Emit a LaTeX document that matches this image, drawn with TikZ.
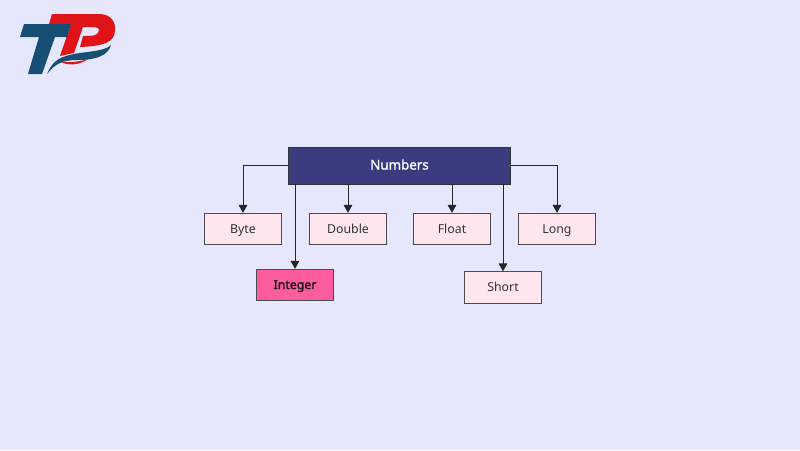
\documentclass[tikz,border=0pt]{standalone}
\usepackage{fontspec}
\setmainfont{Noto Sans}
\usetikzlibrary{arrows.meta}

\definecolor{bgColor}{HTML}{E6E6FC}
\definecolor{navyColor}{HTML}{3B3B80}
\definecolor{paleColor}{HTML}{FFE6EE}
\definecolor{pinkColor}{HTML}{FF5C9D}
\definecolor{logoBlue}{HTML}{174E73}
\definecolor{logoRed}{HTML}{DF1318}

\begin{document}
\begin{tikzpicture}[x = 0.75pt, y = -0.75pt]
	\tikzstyle{rootStyle}=[shape = rectangle, minimum width = 166.5pt, minimum height = 27.75pt, inner sep = 0pt, line width = 0.7pt, draw = black!80, fill = navyColor, text = white, text height = 8pt, text depth = 2pt, font = \fontsize{10}{12}\selectfont\addfontfeature{FakeBold=1.2}]
	\tikzstyle{leafStyle}=[shape = rectangle, minimum width = 57.75pt, minimum height = 23.5pt, inner sep = 0pt, line width = 0.7pt, draw = black!70, fill = paleColor, text = black!80, text height = 8pt, text depth = 2pt, font = \fontsize{9.25}{12}\selectfont]
	\tikzstyle{hitStyle}=[leafStyle, fill = pinkColor, text = black!90, font = \fontsize{9.25}{12}\selectfont\addfontfeature{FakeBold=2}]
	\tikzstyle{arrowStyle}=[draw = black!85, line width = 0.7pt, -{Triangle[length = 6pt, width = 6.5pt]}]
	\path[use as bounding box, fill = bgColor] (0,0) rectangle (800,450);
	% logo
	\fill[logoRed] (52,14) -- (99,14) .. controls (111,14) and (116,22) .. (115,31) .. controls (114,42) and (105,46) .. (80,47) -- (83,36) .. controls (92,36) and (99,36) .. (99,30) .. controls (99,27) and (96,27) .. (83,27) -- (74,53) -- (60,56) -- (71,24) -- (49,24) -- cycle;
	\fill[logoRed] (61,62) .. controls (72,63) and (82,61) .. (88,59) .. controls (80,65) and (68,66) .. (61,62) -- cycle;
	\fill[logoBlue] (24,24) -- (71,24) -- (67,37) -- (55,37) -- (42,74) -- (28,74) -- (39,37) -- (20,37) -- cycle;
	\fill[logoBlue] (47,74) .. controls (53,60) and (60,56) .. (80,53) .. controls (95,51) and (106,50) .. (111,45) .. controls (108,56) and (95,60) .. (78,60) .. controls (62,60) and (55,64) .. (47,74) -- cycle;
	% boxes
	\node[rootStyle] (numbers) at (399.5,165.5) {Numbers};
	\node[leafStyle] (byte) at (243,229) {Byte};
	\node[leafStyle] (double) at (348,229) {Double};
	\node[leafStyle] (float) at (452,229) {Float};
	\node[leafStyle] (long) at (557,229) {Long};
	\node[hitStyle] (integer) at (295,285) {Integer};
	\node[leafStyle] (short) at (503,287.5) {Short};
	% arrows
	\draw[arrowStyle] (numbers.west) -| (byte.north);
	\draw[arrowStyle] (numbers.east) -| (long.north);
	\draw[arrowStyle] (numbers.south -| double.north) -- (double.north);
	\draw[arrowStyle] (numbers.south -| float.north) -- (float.north);
	\draw[arrowStyle] (numbers.south -| integer.north) -- (integer.north);
	\draw[arrowStyle] (numbers.south -| short.north) -- (short.north);
\end{tikzpicture}
\end{document}
